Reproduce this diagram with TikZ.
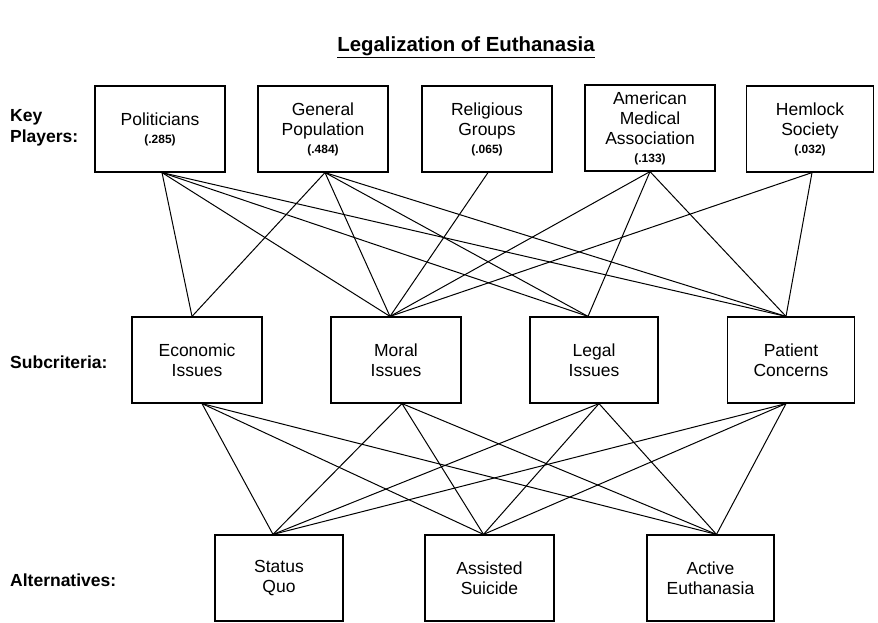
\documentclass[tikz,border=0pt]{standalone}
\usepackage{fontspec}
\setmainfont{Liberation Sans}
\newcommand{\weightval}[1]{{\fontsize{12}{14}\selectfont\bfseries #1}}
\begin{document}
\begin{tikzpicture}[x=1pt,y=-1pt,
  critbox/.style={draw, line width=1.2pt, minimum width=130pt, minimum height=86pt,
    inner sep=0pt, align=center, font=\fontsize{17.5}{20}\selectfont},
  levellabel/.style={anchor=west, align=left, inner sep=0pt,
    font=\fontsize{17.5}{21}\selectfont\bfseries},
  link/.style={line width=1pt}]
\useasboundingbox (0,0) rectangle (878,623);

% title
\node[font=\fontsize{20.4}{24}\selectfont\bfseries, inner sep=0pt] (title) at (466,47)
  {\underline{Legalization of Euthanasia}};

% level labels
\node[levellabel] (lkey) at (10,128) {Key\\Players:};
\node[levellabel] (lsub) at (10,362) {Subcriteria:};
\node[levellabel] (lalt) at (10,580) {Alternatives:};

% key players
\node[critbox] (pol) at (160,129) {Politicians\\[-2pt]\weightval{(.285)}};
\node[critbox] (gen) at (323,129) {General\\Population\\[-2pt]\weightval{(.484)}};
\node[critbox] (rel) at (487,129) {Religious\\Groups\\[-2pt]\weightval{(.065)}};
\node[critbox] (ama) at (650,128) {American\\Medical\\Association\\[-2pt]\weightval{(.133)}};
\node[critbox, minimum width=127pt] (hem) at (810,129) {Hemlock\\Society\\[-2pt]\weightval{(.032)}};

% subcriteria
\node[critbox] (eco) at (197,360) {Economic\\Issues};
\node[critbox] (mor) at (396,360) {Moral\\Issues};
\node[critbox, minimum width=128pt] (leg) at (594,360) {Legal\\Issues};
\node[critbox, minimum width=127pt] (pat) at (791,360) {Patient\\Concerns};

% alternatives
\node[critbox, minimum width=128pt] (sq) at (279,578) {Status\\Quo};
\node[critbox, minimum width=129pt] (as) at (489.5,578) {Assisted\\Suicide};
\node[critbox, minimum width=127pt] (ae) at (710.5,578) {Active\\Euthanasia};

% attachment points
\coordinate (pol-b) at ([xshift=2pt]pol.south);
\coordinate (gen-b) at ([xshift=2pt]gen.south);
\coordinate (rel-b) at ([xshift=1pt]rel.south);
\coordinate (ama-b) at (ama.south);
\coordinate (hem-b) at ([xshift=2pt]hem.south);
\coordinate (eco-t) at ([xshift=-5pt]eco.north);
\coordinate (mor-t) at ([xshift=-6pt]mor.north);
\coordinate (leg-t) at ([xshift=-6pt]leg.north);
\coordinate (pat-t) at ([xshift=-5pt]pat.north);
\coordinate (eco-b) at ([xshift=5pt]eco.south);
\coordinate (mor-b) at ([xshift=6pt]mor.south);
\coordinate (leg-b) at ([xshift=5pt]leg.south);
\coordinate (pat-b) at ([xshift=-5pt]pat.south);
\coordinate (sq-t) at ([xshift=-6pt]sq.north);
\coordinate (as-t) at ([xshift=-6pt]as.north);
\coordinate (ae-t) at ([xshift=6pt]ae.north);

% key players to subcriteria
\foreach \s in {eco,mor,leg,pat} {
  \draw[link] (pol-b) -- (\s-t);
  \draw[link] (gen-b) -- (\s-t);
}
\draw[link] (rel-b) -- (mor-t);
\foreach \s in {mor,leg,pat} \draw[link] (ama-b) -- (\s-t);
\foreach \s in {mor,pat} \draw[link] (hem-b) -- (\s-t);

% subcriteria to alternatives
\foreach \s in {eco,mor,leg,pat}
  \foreach \a in {sq,as,ae}
    \draw[link] (\s-b) -- (\a-t);
\end{tikzpicture}
\end{document}
